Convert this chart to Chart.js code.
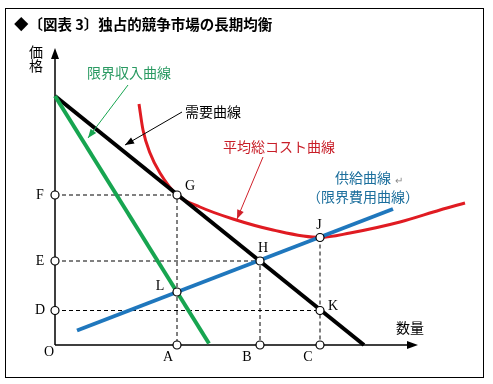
<!DOCTYPE html>
<html lang="ja">
<head>
<meta charset="UTF-8">
<title>独占的競争市場の長期均衡</title>
<script src="https://cdn.jsdelivr.net/npm/chart.js"></script>
<style>
  html, body { margin: 0; padding: 0; background: #fff; }
  #wrap { width: 493px; height: 384px; }
</style>
</head>
<body>
<div id="wrap"><canvas id="chart" width="493" height="384"></canvas></div>
<script>
// 軸上の点（数量・価格）
const qLabels = ['A', 'B', 'C'];
const qValues = [12.2, 20.5, 26.5];
const pLabels = ['F', 'E', 'D'];
const pValues = [15.0, 8.4, 3.45];

// 需要曲線
const demandQ = [0, 30.9];
const demandP = [24.9, 0];
// 限界収入曲線
const mrQ = [0, 15.4];
const mrP = [24.9, 0.15];
// 供給曲線（限界費用曲線）
const mcQ = [2.2, 33.8];
const mcP = [1.45, 13.6];
// 平均総コスト曲線
const atcQ = [8.4, 8.8, 9.5, 10.5, 12.2, 14.5, 17.8, 21.8, 26.5, 29.5, 34.5, 38.5, 41.0];
const atcP = [24.1, 21.5, 19.2, 17.2, 15.0, 13.8, 12.6, 11.5, 10.75, 11.2, 12.3, 13.5, 14.2];

// 交点
const ptNames = ['G', 'L', 'H', 'J', 'K'];
const ptQ = [12.2, 12.2, 20.5, 26.5, 26.5];
const ptP = [15.0, 5.3, 8.4, 10.75, 3.45];

const zip = (q, p) => q.map((x, i) => ({ x: x, y: p[i] }));

// 点線（補助線）
const guides = [
    [{ x: 0, y: pValues[0] }, { x: qValues[0], y: pValues[0] }, { x: qValues[0], y: 0 }],
    [{ x: 0, y: pValues[1] }, { x: qValues[1], y: pValues[1] }, { x: qValues[1], y: 0 }],
    [{ x: 0, y: pValues[2] }, { x: ptQ[4], y: ptP[4] }],
    [{ x: ptQ[3], y: ptP[3] }, { x: qValues[2], y: 0 }]
];

const circles = zip(ptQ, ptP)
    .concat(qValues.map(q => ({ x: q, y: 0 })))
    .concat(pValues.map(p => ({ x: 0, y: p })));

const line = (data, color, width, order) => ({
    data: data, borderColor: color, borderWidth: width, pointRadius: 0,
    showLine: true, fill: false, order: order
});

const datasets = guides.map(g => Object.assign(line(g, '#000', 1, 6), { borderDash: [4, 3] }));
datasets.push(Object.assign(line(zip(atcQ, atcP), '#e01b22', 3, 5), { cubicInterpolationMode: 'monotone' }));
datasets.push(line(zip(demandQ, demandP), '#000', 4, 4));
datasets.push(line(zip(mrQ, mrP), '#17a550', 4, 3));
datasets.push(line(zip(mcQ, mcP), '#1f77bd', 4, 2));
datasets.push({
    data: circles, showLine: false, pointRadius: 4, pointBorderWidth: 1.2,
    pointBackgroundColor: '#fff', pointBorderColor: '#000', order: 0
});

const JP = '"Noto Sans CJK JP", sans-serif';
const SERIF = '"Liberation Serif", "DejaVu Serif", serif';

function arrowHead(ctx, x1, y1, x2, y2, len, half, color) {
    const a = Math.atan2(y2 - y1, x2 - x1);
    ctx.save();
    ctx.fillStyle = color;
    ctx.beginPath();
    ctx.moveTo(x2, y2);
    ctx.lineTo(x2 - len * Math.cos(a) + half * Math.sin(a), y2 - len * Math.sin(a) - half * Math.cos(a));
    ctx.lineTo(x2 - len * Math.cos(a) - half * Math.sin(a), y2 - len * Math.sin(a) + half * Math.cos(a));
    ctx.closePath();
    ctx.fill();
    ctx.restore();
}

const diagram = {
    id: 'diagram',
    beforeDatasetsDraw(chart) {
        const ctx = chart.ctx, xs = chart.scales.x, ys = chart.scales.y;
        const ox = xs.getPixelForValue(0), oy = ys.getPixelForValue(0);
        const topY = ys.getPixelForValue(29.7), rightX = xs.getPixelForValue(36.3);
        ctx.save();
        // 枠
        ctx.strokeStyle = '#000';
        ctx.lineWidth = 1;
        ctx.strokeRect(5.5, 8.5, 478, 369);
        // 軸
        ctx.lineWidth = 1.5;
        ctx.beginPath();
        ctx.moveTo(ox, oy); ctx.lineTo(ox, topY + 6);
        ctx.moveTo(ox, oy); ctx.lineTo(rightX - 6, oy);
        ctx.stroke();
        arrowHead(ctx, ox, oy, ox, topY, 11, 4, '#000');
        arrowHead(ctx, ox, oy, rightX, oy, 11, 4, '#000');
        ctx.restore();
    },
    afterDatasetsDraw(chart) {
        const ctx = chart.ctx, xs = chart.scales.x, ys = chart.scales.y;
        const px = q => xs.getPixelForValue(q), py = p => ys.getPixelForValue(p);
        ctx.save();
        ctx.textBaseline = 'middle';

        // タイトル
        ctx.fillStyle = '#000';
        ctx.font = 'bold 14.5px ' + JP;
        ctx.textAlign = 'left';
        ctx.fillText('◆〔図表 3〕独占的競争市場の長期均衡', 14, 24);

        // 軸ラベル
        ctx.font = '14px ' + JP;
        ctx.textAlign = 'center';
        ctx.fillText('価', 36, 52);
        ctx.fillText('格', 36, 66);
        ctx.textAlign = 'left';
        ctx.fillText('数量', px(34.1), py(1.7));

        // 点の名前
        ctx.font = '14px ' + SERIF;
        ctx.textAlign = 'center';
        ctx.fillText('O', px(0) - 6, py(0) + 7);
        const qOff = [-9, -13, -12];
        qLabels.forEach((t, i) => ctx.fillText(t, px(qValues[i]) + qOff[i], py(0) + 12));
        pLabels.forEach((t, i) => ctx.fillText(t, px(0) - 15, py(pValues[i])));
        const off = { G: [13, -9], L: [-17, -6], H: [3, -13], J: [-1, -12], K: [13, -4] };
        ptNames.forEach((t, i) => ctx.fillText(t, px(ptQ[i]) + off[t][0], py(ptP[i]) + off[t][1]));

        // 引き出し線
        const leaders = [
            { from: [7.3, 26.0], to: [3.3, 20.7], color: '#17a550' },
            { from: [12.7, 23.3], to: [7.0, 20.0], color: '#000' },
            { from: [20.8, 18.8], to: [18.2, 12.6], color: '#d0202a' }
        ];
        leaders.forEach(l => {
            const x1 = px(l.from[0]), y1 = py(l.from[1]), x2 = px(l.to[0]), y2 = py(l.to[1]);
            ctx.strokeStyle = l.color;
            ctx.lineWidth = 1;
            ctx.beginPath();
            ctx.moveTo(x1, y1); ctx.lineTo(x2, y2);
            ctx.stroke();
            arrowHead(ctx, x1, y1, x2, y2, 9, 3.5, l.color);
        });

        // 曲線の名前
        ctx.font = '14px ' + JP;
        ctx.textAlign = 'left';
        ctx.fillStyle = '#2a9a62';
        ctx.fillText('限界収入曲線', px(3.2), py(27.2));
        ctx.fillStyle = '#000';
        ctx.fillText('需要曲線', px(13.0), py(23.3));
        ctx.fillStyle = '#c81e28';
        ctx.fillText('平均総コスト曲線', px(16.8), py(19.8));
        ctx.fillStyle = '#1b6e9c';
        ctx.fillText('供給曲線', px(28.0), py(16.7));
        ctx.font = '10px ' + JP;
        ctx.fillStyle = '#888';
        ctx.fillText('↵', px(34.0), py(16.5));
        ctx.font = '14px ' + JP;
        ctx.fillStyle = '#1b6e9c';
        ctx.fillText('（限界費用曲線）', px(25.2), py(14.8));
        ctx.restore();
    }
};

new Chart(document.getElementById('chart'), {
    type: 'scatter',
    data: { datasets: datasets },
    options: {
        responsive: false,
        animation: false,
        devicePixelRatio: 1,
        layout: { padding: 0, autoPadding: false },
        plugins: { legend: { display: false }, tooltip: { enabled: false }, title: { display: false } },
        scales: {
            x: { type: 'linear', display: false, min: -5.5, max: 43.8 },
            y: { type: 'linear', display: false, min: -3.9, max: 34.5 }
        }
    },
    plugins: [diagram]
});
</script>
</body>
</html>
